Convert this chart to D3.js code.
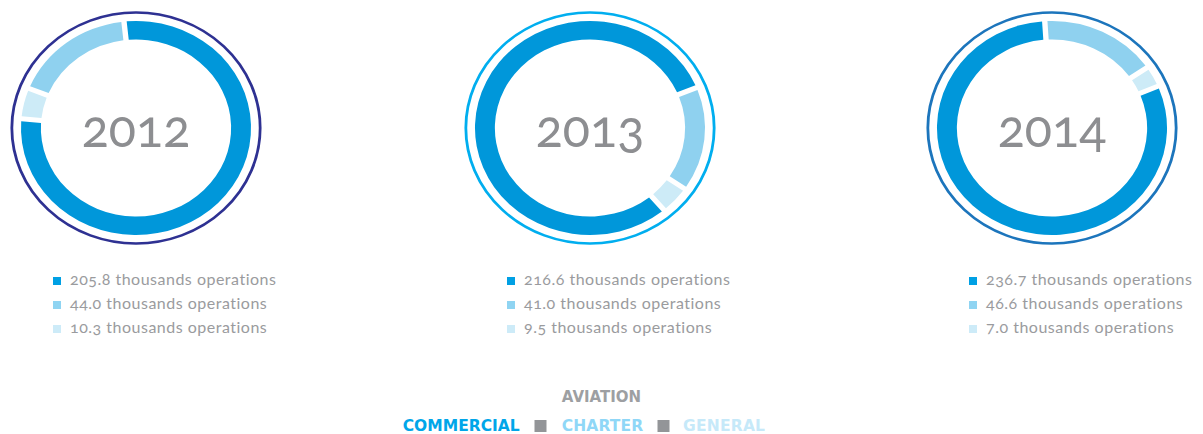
<!DOCTYPE html>
<html>
<head>
<meta charset="utf-8">
<script src="https://cdn.jsdelivr.net/npm/d3@7"></script>
<style>
  html, body { margin: 0; padding: 0; background: #ffffff; }
  svg { display: block; }
  .year { font-family: Lato, "Open Sans", sans-serif; font-weight: 400; font-variant-numeric: oldstyle-nums; }
  .legend-text { font-family: Lato, "Open Sans", sans-serif; font-weight: 400; font-variant-numeric: oldstyle-nums; letter-spacing: 0.5px; }
  .caps { font-family: "DejaVu Sans", sans-serif; font-weight: bold; }
</style>
</head>
<body>
<svg id="chart" width="1203" height="434"></svg>
<script>
// Aviation operations per year, in thousands
const years = ["2012", "2013", "2014"];
const commercial = [205.8, 216.6, 236.7];
const charter = [44.0, 41.0, 46.6];
const general = [10.3, 9.5, 7.0];
const seriesNames = ["COMMERCIAL", "CHARTER", "GENERAL"];
const unitLabel = "thousands operations";
const titleLabel = "AVIATION";

// Layout
const centersX = [136, 590, 1052];
const centerY = 128;
const stretchX = 1.075;            // donuts are drawn slightly wide
const outerR = 107, innerR = 88.5, ringR = 115.5;
const startDeg = [-6, 140, 67];    // where the commercial slice begins
const sliceOrder = [
  ["commercial", "general", "charter"],
  ["commercial", "charter", "general"],
  ["commercial", "charter", "general"]
];
const ringColors = ["#2e3192", "#00aeef", "#1c75bc"];
const colors = { commercial: "#0097da", charter: "#8fd1ef", general: "#cdebf7" };
const legendColors = { commercial: "#00a0e4", charter: "#8fd4f2", general: "#cdebf8" };
const captionColors = { commercial: "#00a6e9", charter: "#8fd7f7", general: "#c6e9f9" };

const svg = d3.select("#chart");

const arc = d3.arc()
  .innerRadius(innerR)
  .outerRadius(outerR)
  .padRadius(100);

years.forEach((year, i) => {
  const values = { commercial: commercial[i], charter: charter[i], general: general[i] };
  const slices = sliceOrder[i].map(k => ({ key: k, value: values[k] }));
  const start = startDeg[i] * Math.PI / 180;

  const pie = d3.pie()
    .sort(null)
    .value(d => d.value)
    .startAngle(start)
    .endAngle(start + 2 * Math.PI)
    .padAngle(0.05);

  const g = svg.append("g")
    .attr("transform", `translate(${centersX[i]},${centerY}) scale(${stretchX},1)`);

  g.append("circle")
    .attr("r", ringR)
    .attr("fill", "none")
    .attr("stroke", ringColors[i])
    .attr("stroke-width", 2.6);

  g.selectAll("path.slice")
    .data(pie(slices))
    .join("path")
    .attr("class", "slice")
    .attr("d", arc)
    .attr("fill", d => colors[d.data.key]);

  g.append("text")
    .attr("class", "year")
    .attr("x", 0)
    .attr("y", 18.5)
    .attr("text-anchor", "middle")
    .attr("font-size", 52)
    .attr("textLength", 101)
    .attr("lengthAdjust", "spacingAndGlyphs")
    .attr("fill", "#8d8e91")
    .text(year);

  // value legend under each donut
  const lg = svg.append("g")
    .attr("transform", `translate(${centersX[i] - 83},277)`);
  const rows = ["commercial", "charter", "general"];
  rows.forEach((k, r) => {
    lg.append("rect")
      .attr("x", 0)
      .attr("y", r * 24)
      .attr("width", 8)
      .attr("height", 8)
      .attr("fill", legendColors[k]);
    lg.append("text")
      .attr("class", "legend-text")
      .attr("x", 17)
      .attr("y", r * 24 + 8)
      .attr("font-size", 16)
      .attr("fill", "#9a9b9e")
      .text(`${values[k].toFixed(1)} ${unitLabel}`);
  });
});

// Caption
svg.append("text")
  .attr("class", "caps")
  .attr("x", 601.5)
  .attr("y", 401.5)
  .attr("text-anchor", "middle")
  .attr("font-size", 15)
  .attr("fill", "#9d9fa2")
  .text(titleLabel);

const captionX = [402.7, 561.7, 683];
const captionW = [117, 81.5, 82];
const keys = ["commercial", "charter", "general"];
seriesNames.forEach((name, j) => {
  svg.append("text")
    .attr("class", "caps")
    .attr("x", captionX[j])
    .attr("y", 431)
    .attr("font-size", 15.5)
    .attr("textLength", captionW[j])
    .attr("fill", captionColors[keys[j]])
    .text(name);
});
const sepX = [534.5, 657.5];
sepX.forEach(x => {
  svg.append("rect")
    .attr("x", x)
    .attr("y", 420)
    .attr("width", 12)
    .attr("height", 12)
    .attr("fill", "#939598");
});
</script>
</body>
</html>
